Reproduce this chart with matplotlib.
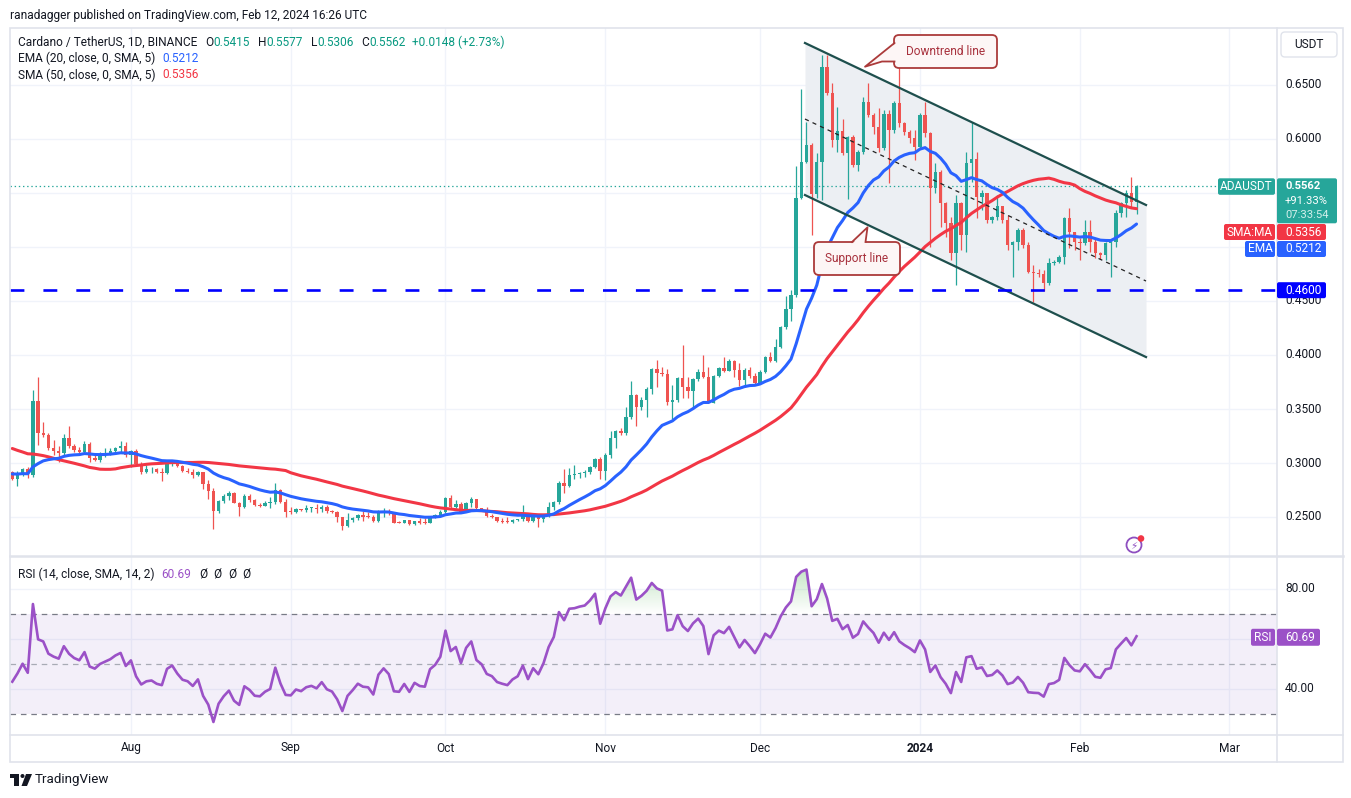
import numpy as np
import pandas as pd
import matplotlib
matplotlib.use("Agg")
import matplotlib.pyplot as plt
from matplotlib.patches import Rectangle, FancyBboxPatch, Polygon, Circle
from matplotlib.path import Path

plt.rcParams['font.family'] = ['Roboto', 'DejaVu Sans']
plt.rcParams['lines.scale_dashes'] = False
plt.rcParams['axes.unicode_minus'] = False

# ---------------- data (ADA/USDT daily) ----------------
start_date = "2023-07-09"
first_open = 0.2920
closes = [
    .285, .289, .294, .289, .357, .328, .326, .314, .311, .309,
    .323, .316, .312, .310, .318, .305, .303, .307, .309, .311,
    .314, .316, .307, .311, .299, .292, .294, .2945, .292, .291,
    .300, .302, .297, .293, .292, .289, .292, .281, .274, .256,
    .265, .269, .272, .263, .259, .269, .266, .261, .2605, .2627,
    .2640, .2750, .2642, .2549, .2545, .2574, .2562, .2580, .2586, .2571,
    .2596, .2556, .2543, .2497, .2417, .2472, .2494, .2519, .2503, .2500,
    .2463, .2534, .2559, .2534, .2448, .2445, .2472, .2432, .2463, .2448,
    .2445, .2503, .2519, .2549, .2673, .2596, .2617, .2549, .2627, .2664,
    .2580, .2559, .2509, .2497, .2466, .2457, .2450, .2470, .2481, .2519,
    .2463, .2503, .2478, .2519, .2590, .2642, .2818, .2787, .2890, .2895,
    .2910, .2920, .2966, .3037, .2929, .3074, .3228, .3296, .3281, .3429,
    .3630, .3515, .3583, .3682, .3867, .3836, .3824, .3568, .3583, .3790,
    .3707, .3670, .3775, .3846, .3793, .3559, .3806, .3877, .3855, .3947,
    .3861, .3768, .3861, .3806, .3744, .3846, .3978, .3947, .4071, .4256,
    .4423, .4556, .5451, .5790, .5945, .5491, .5790, .6670, .6423, .5991,
    .6077, .5867, .6022, .5760, .5883, .6346, .6222, .6114, .5914, .6232,
    .6084, .6331, .6145, .6068, .6006, .5929, .6223, .6052, .5550, .5698,
    .5405, .5220, .4942, .5405, .5112, .5775, .5812, .5460, .5497, .5251,
    .5275, .5380, .5250, .5019, .5050, .5158, .5019, .4772, .4757, .4750,
    .4664, .4849, .4865, .4911, .5266, .5142, .5050, .5034, .5142, .5050,
    .4942, .4926, .5034, .5050, .5312, .5405, .5497, .5415, .5562,
]
highs = [
    .293, .293, .295, .296, .368, .380, .338, .328, .321, .316,
    .327, .334, .318, .315, .320, .319, .309, .310, .314, .314,
    .315, .320, .319, .312, .313, .301, .298, .296, .295, .295,
    .302, .303, .303, .298, .295, .294, .293, .292, .284, .277,
    .266, .271, .274, .273, .264, .271, .271, .2664, .2630, .2650,
    .2688, .2812, .2755, .2667, .2596, .2580, .2576, .2611, .2596, .2617,
    .2611, .2611, .2568, .2556, .2503, .2540, .2503, .2528, .2556, .2550,
    .2519, .2565, .2580, .2571, .2540, .2465, .2475, .2475, .2466, .2494,
    .2494, .2506, .2530, .2565, .2688, .2704, .2657, .2642, .2642, .2682,
    .2667, .2585, .2596, .2528, .2503, .2494, .2503, .2485, .2485, .2611,
    .2528, .2519, .2503, .2528, .2642, .2651, .2836, .2944, .2951, .2981,
    .2920, .2935, .2975, .3043, .3059, .3090, .3296, .3306, .3320, .3522,
    .3759, .3639, .3614, .3707, .3883, .3954, .3892, .3867, .3722, .3799,
    .4093, .3799, .3784, .3867, .4000, .3892, .3815, .3886, .3978, .3960,
    .3954, .3923, .3877, .3892, .3836, .3861, .3991, .4031, .4145, .4268,
    .4546, .4602, .5750, .6460, .6161, .5960, .5867, .6778, .6778, .6516,
    .6300, .6182, .6030, .6040, .5900, .6392, .6516, .6240, .6284, .6269,
    .6269, .6350, .6747, .6160, .6080, .6084, .6238, .6345, .6068, .5775,
    .5713, .5420, .5281, .5482, .5420, .5883, .6161, .5883, .5528, .5503,
    .5288, .5482, .5374, .5297, .5059, .5173, .5173, .5050, .4830, .4800,
    .4790, .4896, .4880, .4930, .5280, .5358, .5142, .5080, .5250, .5250,
    .5080, .4950, .5050, .5060, .5343, .5420, .5528, .5652, .5577,
]
lows = [
    .284, .279, .288, .286, .287, .317, .324, .312, .307, .301,
    .307, .314, .310, .307, .308, .301, .302, .301, .306, .307,
    .309, .310, .306, .296, .298, .290, .291, .291, .291, .283,
    .290, .297, .296, .292, .291, .286, .288, .276, .267, .239,
    .254, .263, .266, .263, .251, .258, .264, .2605, .2595, .2600,
    .2586, .2620, .2627, .2503, .2528, .2540, .2555, .2549, .2543, .2540,
    .2543, .2540, .2535, .2457, .2380, .2411, .2450, .2472, .2466, .2488,
    .2457, .2457, .2503, .2519, .2441, .2440, .2440, .2430, .2423, .2435,
    .2438, .2440, .2488, .2500, .2540, .2580, .2580, .2540, .2545, .2596,
    .2565, .2555, .2497, .2488, .2457, .2441, .2445, .2445, .2460, .2466,
    .2457, .2457, .2404, .2457, .2503, .2565, .2620, .2719, .2775, .2850,
    .2865, .2870, .2895, .2950, .2849, .2843, .3043, .3136, .3260, .3259,
    .3404, .3343, .3491, .3429, .3639, .3701, .3806, .3537, .3404, .3568,
    .3599, .3599, .3497, .3762, .3784, .3552, .3559, .3793, .3846, .3855,
    .3793, .3713, .3707, .3784, .3722, .3740, .3830, .3938, .3938, .4062,
    .4238, .4318, .4534, .5442, .5781, .5111, .5451, .5436, .6408, .5929,
    .5883, .5852, .5442, .5740, .5700, .5860, .6200, .6050, .5883, .5900,
    .5590, .6060, .6110, .6040, .5960, .5806, .5914, .6021, .5004, .5497,
    .5189, .5096, .4880, .4649, .4973, .4957, .5600, .5266, .5343, .5226,
    .5220, .5251, .5220, .4973, .4726, .4973, .4990, .4760, .4494, .4720,
    .4590, .4649, .4830, .4850, .4843, .4990, .4973, .4880, .5019, .4957,
    .4896, .4890, .4880, .4726, .5003, .5281, .5281, .5370, .5306,
]
# estimated closes before the visible window (May 10 - Jul 8 2023), used only to warm up the indicators
prior_closes = [
    .365, .360, .355, .360, .362, .370, .368, .372, .370, .368,
    .372, .375, .370, .372, .368, .360, .368, .370, .378, .372, .376, .374,
    .368, .372, .378, .376, .340, .352, .315, .310, .295, .262,
    .270, .272, .275, .266, .262, .272, .280, .278, .280, .290,
    .293, .292, .290, .290, .285, .280, .283, .278, .283, .295,
    .297, .295, .292, .292, .288, .282, .285, .290,
]

price_ticks = [0.25, 0.30, 0.35, 0.40, 0.45, 0.50, 0.55, 0.60, 0.65]
hidden_price_labels = [0.50, 0.55]     # covered by the value boxes on the price scale
rsi_grid = [40, 60, 80]
rsi_tick_labels = [40, 80]
month_labels = ["Aug", "Sep", "Oct", "Nov", "Dec", "2024", "Feb", "Mar"]
month_dates = ["2023-08-01", "2023-09-01", "2023-10-01", "2023-11-01",
               "2023-12-01", "2024-01-01", "2024-02-01", "2024-03-01"]
support_level = 0.46
channel_x = [153.71, 219.84]          # bar positions of the channel ends
channel_upper = [0.6889, 0.5389]
channel_lower = [0.5481, 0.3981]

ema_label, sma_label = 0.5212, 0.5356
last_o, last_h, last_l, last_c = 0.5415, 0.5577, 0.5306, 0.5562
rsi_label = 60.69

# ---------------- indicators ----------------
n = len(closes)
idx = np.arange(n)
o = np.array([first_open] + closes[:-1])
c = np.array(closes)
h = np.maximum(np.array(highs), np.maximum(o, c))
l = np.minimum(np.array(lows), np.minimum(o, c))
allc = pd.Series(prior_closes + closes)
ema20 = allc.ewm(span=20, adjust=False).mean().values[-n:]
sma50 = allc.rolling(50).mean().values[-n:]
d = allc.diff()
g = d.clip(lower=0)
ls_ = -d.clip(upper=0)
ag = g.ewm(alpha=1 / 14, adjust=False).mean()
al = ls_.ewm(alpha=1 / 14, adjust=False).mean()
rsi = (100 - 100 / (1 + ag / al)).values[-n:]

# ---------------- layout ----------------
W, H = 1351, 798
fig = plt.figure(figsize=(W / 100, H / 100), dpi=100, facecolor='white')
LEFT, RIGHT, TOP, MAIN_BOT, RSI_BOT, FRAME_BOT, FRAME_R = 10, 1277, 27.5, 556, 735, 762, 1343
X0, PX = 12.3, 5.157
PY0, PSC = 85.0, 1080.0  # y of 0.65 and px per unit
R50, RSC = 664.0, 2.5

def fa(x0, y0, x1, y1):
    return [x0 / W, 1 - y1 / H, (x1 - x0) / W, (y1 - y0) / H]

ax = fig.add_axes(fa(LEFT, TOP, RIGHT, MAIN_BOT))
rax = fig.add_axes(fa(LEFT, MAIN_BOT, RIGHT, RSI_BOT))
xl = ((LEFT - X0) / PX, (RIGHT - X0) / PX)
for a in (ax, rax):
    a.set_xlim(*xl)
    a.set_xticks([])
    a.set_yticks([])
    for s in a.spines.values():
        s.set_visible(False)
ax.set_ylim(0.65 - (MAIN_BOT - PY0) / PSC, 0.65 + (PY0 - TOP) / PSC)
rax.set_ylim(50 - (RSI_BOT - R50) / RSC, 50 + (R50 - MAIN_BOT) / RSC)

t0 = pd.Timestamp(start_date)
month_pos = [(pd.Timestamp(m) - t0).days for m in month_dates]

grid_c = '#f0f3fa'
for p in price_ticks:
    ax.axhline(p, color=grid_c, lw=1, zorder=0)
for v in rsi_grid:
    rax.axhline(v, color=grid_c, lw=1, zorder=0)
for mp in month_pos:
    ax.axvline(mp, color=grid_c, lw=1, zorder=0)
    rax.axvline(mp, color=grid_c, lw=1, zorder=0)

# channel
ax.fill_between(channel_x, channel_lower, channel_upper, color='#eceff3', lw=0, zorder=1)
ch_mid = [(u + b) / 2 for u, b in zip(channel_upper, channel_lower)]

# candles
up = c >= o
cols = np.where(up, '#26a69a', '#ef5350')
ax.vlines(idx, l, h, colors=cols, lw=0.9, zorder=3)
ax.bar(idx, np.maximum(np.abs(c - o), 0.0009), bottom=np.minimum(o, c), width=0.66,
       color=cols, lw=0, zorder=4)

ax.plot(idx, sma50, color='#f23645', lw=2.2, zorder=5, solid_capstyle='round')
ax.plot(idx, ema20, color='#2962ff', lw=2.2, zorder=5, solid_capstyle='round')

ax.plot(channel_x, channel_upper, color='#1e4f4d', lw=1.6, zorder=6)
ax.plot(channel_x, channel_lower, color='#1e4f4d', lw=1.6, zorder=6)
ax.plot(channel_x, ch_mid, color='#222222', lw=0.9, dashes=(3, 3), zorder=6)

ax.axhline(support_level, color='#0000ff', lw=1.9, dashes=(10, 13.7), zorder=7)
ax.axhline(last_c, color='#26a69a', lw=0.9, dashes=(1, 2), zorder=2)

# RSI pane
rax.axhspan(30, 70, color='#7e57c2', alpha=0.09, lw=0, zorder=0.5)
rax.axhline(70, color='#787b86', lw=0.9, dashes=(4, 3.5), zorder=1)
rax.axhline(30, color='#787b86', lw=0.9, dashes=(4, 3.5), zorder=1)
rax.axhline(50, color='#a8abb5', lw=0.9, dashes=(4, 3.5), zorder=1)

def grad_fill(a, lo, hi, where, rgb, top_alpha, reverse=False):
    pc = a.fill_between(idx, lo, rsi, where=where, interpolate=True, color='none', lw=0)
    paths = pc.get_paths()
    if not paths:
        return
    comp = Path.make_compound_path(*paths)
    grad = np.linspace(0, 1, 100)
    if reverse:
        grad = grad[::-1]
    img = np.zeros((100, 1, 4))
    img[:, 0, :3] = rgb
    img[:, 0, 3] = grad * top_alpha
    im = a.imshow(img, extent=[xl[0], xl[1], lo, hi], origin='lower', aspect='auto', zorder=2)
    im.set_clip_path(comp, transform=a.transData)

grad_fill(rax, 70, 95, rsi > 70, (0.30, 0.69, 0.31), 0.45)
grad_fill(rax, 20, 30, rsi < 30, (0.95, 0.21, 0.27), 0.35, reverse=True)
rax.set_xlim(*xl)
rax.set_ylim(50 - (RSI_BOT - R50) / RSC, 50 + (R50 - MAIN_BOT) / RSC)
rax.plot(idx, rsi, color='#9b51c7', lw=1.9, zorder=4)

# ---------------- overlay (axis labels, header, boxes) ----------------
ov = fig.add_axes([0, 0, 1, 1], zorder=10)
ov.set_xlim(0, W)
ov.set_ylim(H, 0)
ov.axis('off')
ov.patch.set_alpha(0)

TXT = '#131722'
FS = 8.6

def ppx(p):
    return PY0 + (0.65 - p) * PSC

def rpx(v):
    return R50 - (v - 50) * RSC

def bx(i):
    return X0 + PX * i

# frame
ov.add_patch(Rectangle((LEFT, TOP), FRAME_R - LEFT, FRAME_BOT - TOP, fill=False, ec='#e0e3eb', lw=1.2))
ov.plot([RIGHT, RIGHT], [TOP, FRAME_BOT], color='#e0e3eb', lw=1.2)
ov.plot([LEFT, FRAME_R], [MAIN_BOT, MAIN_BOT], color='#e0e3eb', lw=1.8)
ov.plot([LEFT, FRAME_R], [RSI_BOT, RSI_BOT], color='#e0e3eb', lw=1.2)

# price labels
for p in price_ticks:
    if any(abs(p - q) < 1e-9 for q in hidden_price_labels):
        continue
    ov.text(1285, ppx(p), f"{p:.4f}", fontsize=FS, color=TXT, va='center', ha='left', zorder=1)
for v in rsi_tick_labels:
    ov.text(1285, rpx(v), f"{v:.2f}", fontsize=FS, color=TXT, va='center', ha='left', zorder=1)

# time labels
for lab, mp in zip(month_labels, month_pos):
    ov.text(bx(mp), 748, lab, fontsize=FS, color=TXT, ha='center', va='center',
            fontweight='bold' if lab == '2024' else 'normal')

def box(x0, y0, x1, y1, fc, ec=None, lw=0, r=2, z=5):
    ov.add_patch(FancyBboxPatch((x0, y0), x1 - x0, y1 - y0,
                                boxstyle=f"round,pad=0,rounding_size={r}",
                                fc=fc, ec=ec if ec else fc, lw=lw, zorder=z))

# USDT box
box(1281, 32, 1337, 57, 'white', '#e0e3eb', 1.0, r=4)
ov.text(1309, 44.5, "USDT", fontsize=FS, color=TXT, ha='center', va='center', zorder=6)

teal = '#26a69a'
py = ppx(last_c)
box(1218, py - 8, 1275, py + 8.5, teal)
ov.text(1246.5, py, "ADAUSDT", fontsize=FS, color='white', ha='center', va='center', zorder=6)
box(1277, py - 8, 1337, py + 37, teal)
ov.text(1285, py, f"{last_c:.4f}", fontsize=8.1, color='white', ha='left', va='center',
        fontweight='bold', zorder=6)
ov.text(1285, py + 14.5, "+91.33%", fontsize=8.1, color='white', ha='left', va='center', zorder=6)
ov.text(1285, py + 29, "07:33:54", fontsize=8.1, color='#d3efeb', ha='left', va='center', zorder=6)

red = '#f23645'
blue = '#2962ff'
ys = 232
box(1224, ys - 8, 1275, ys + 8, red)
ov.text(1249.5, ys, "SMA:MA", fontsize=FS, color='white', ha='center', va='center', zorder=6)
box(1277, ys - 8, 1326, ys + 8, red)
ov.text(1285, ys, f"{sma_label:.4f}", fontsize=FS, color='white', ha='left', va='center', zorder=6)
ye = 249
box(1245, ye - 8, 1275, ye + 8, blue)
ov.text(1260, ye, "EMA", fontsize=FS, color='white', ha='center', va='center', zorder=6)
box(1277, ye - 8, 1326, ye + 8, blue)
ov.text(1285, ye, f"{ema_label:.4f}", fontsize=FS, color='white', ha='left', va='center', zorder=6)

ysup = ppx(support_level)
box(1277, ysup - 8, 1326, ysup + 8, '#0000ff')
ov.text(1285, ysup, f"{support_level:.4f}", fontsize=FS, color='white', ha='left', va='center', zorder=6)

purple = '#9b51c7'
yr = rpx(rsi_label)
box(1251, yr - 8.5, 1275, yr + 8.5, purple)
ov.text(1263, yr, "RSI", fontsize=FS, color='white', ha='center', va='center', zorder=6)
box(1277, yr - 8.5, 1320, yr + 8.5, purple)
ov.text(1285, yr, f"{rsi_label:.2f}", fontsize=FS, color='white', ha='left', va='center', zorder=6)

# header texts
renderer = fig.canvas.get_renderer()

def segments(x, y, parts, fs=FS):
    for txt, col, gap in parts:
        t = ov.text(x, y, txt, fontsize=fs, color=col, ha='left', va='center', zorder=8)
        x += t.get_window_extent(renderer=renderer).width + gap

ov.text(10, 15, "ranadagger published on TradingView.com, Feb 12, 2024 16:26 UTC",
        fontsize=FS, color=TXT, ha='left', va='center')
g_ = '#089981'
segments(18, 42, [("Cardano / TetherUS, 1D, BINANCE", TXT, 8),
                  ("O", TXT, 0), (f"{last_o:.4f}", g_, 8),
                  ("H", TXT, 0), (f"{last_h:.4f}", g_, 8),
                  ("L", TXT, 0), (f"{last_l:.4f}", g_, 8),
                  ("C", TXT, 0), (f"{last_c:.4f}", g_, 6),
                  ("+0.0148 (+2.73%)", g_, 0)])
segments(18, 58, [("EMA (20, close, 0, SMA, 5)", TXT, 7), (f"{ema_label:.4f}", blue, 0)])
segments(18, 75, [("SMA (50, close, 0, SMA, 5)", TXT, 7), (f"{sma_label:.4f}", red, 0)])
segments(18, 574, [("RSI (14, close, SMA, 14, 2)", TXT, 7), (f"{rsi_label:.2f}", purple, 8),
                   ("Ø", TXT, 6), ("Ø", TXT, 6), ("Ø", TXT, 6), ("Ø", TXT, 0)])

# callouts
cfc, cec, ctc = '#fdf6f6', '#ab3a3a', '#a8323e'
box(894, 35, 997, 68, cfc, cec, 1.3, r=5, z=7)
ov.add_patch(Polygon([(896, 43), (865, 66.7), (882, 61.5), (896, 61.5)], closed=True,
                     fc=cfc, ec='none', zorder=7.5))
ov.plot([894.5, 865, 882, 894.5], [43, 66.7, 61.5, 61.5], color=cec, lw=1.3, zorder=7.6)
ov.text(945.5, 51.5, "Downtrend line", fontsize=FS, color=ctc, ha='center', va='center', zorder=8)

box(814, 242, 900, 275, cfc, cec, 1.3, r=5, z=7)
ov.add_patch(Polygon([(852, 244), (867.5, 227.3), (865.5, 244)], closed=True,
                     fc=cfc, ec='none', zorder=7.5))
ov.plot([852, 867.5, 865.5], [242, 227.3, 242], color=cec, lw=1.3, zorder=7.6)
ov.text(857, 258.5, "Support line", fontsize=FS, color=ctc, ha='center', va='center', zorder=8)

# small indicator icon
ov.add_patch(Circle((1134, 545), 7.5, fill=False, ec='#8e4fc0', lw=1.3, zorder=8))
ov.text(1134, 545.5, "\u26a1", fontsize=7.5, color='#8e4fc0', ha='center', va='center',
        family=['DejaVu Sans'], zorder=8)
ov.add_patch(Circle((1141, 538.5), 2.6, color='#f23645', zorder=9))

# TradingView logo
ov.add_patch(Rectangle((10, 774), 9, 3.5, color=TXT, lw=0))
ov.add_patch(Rectangle((14, 774), 5, 12, color=TXT, lw=0))
ov.add_patch(Circle((22.5, 776), 2.0, color=TXT, lw=0))
ov.add_patch(Polygon([(26, 774), (32, 774), (27, 786), (21.5, 786)], closed=True, color=TXT, lw=0))
ov.text(35, 780, "TradingView", fontsize=9.6, color=TXT, ha='left', va='center')

fig.savefig("out.png", dpi=100, facecolor='white')
